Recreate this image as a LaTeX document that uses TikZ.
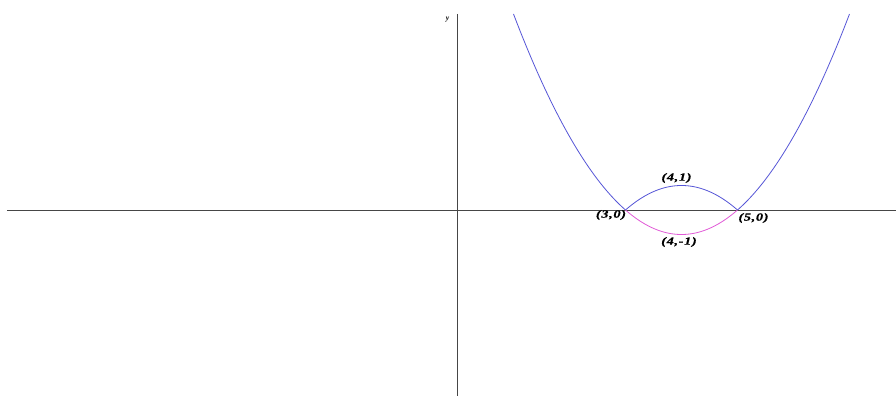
\documentclass[tikz,border=0pt]{standalone}
\usepackage{fontspec}
\setmainfont{Liberation Serif}
\newfontfamily\labelfont[FakeStretch=1.3,LetterSpace=6,FakeBold=0.6]{Liberation Serif Bold Italic}
\definecolor{curveblue}{RGB}{85,85,215}
\definecolor{curvepink}{RGB}{225,90,215}
\definecolor{axisgray}{RGB}{70,70,70}
\begin{document}
\begin{tikzpicture}[x=56pt,y=24.5pt,
  axisline/.style={draw=axisgray,line width=0.9pt},
  bluecurve/.style={draw=curveblue,line width=0.8pt},
  pinkcurve/.style={draw=curvepink,line width=0.8pt},
  ptlabel/.style={font=\labelfont\fontsize{11}{12}\selectfont,inner sep=0pt}]
\useasboundingbox (-457.5pt,-188pt) rectangle (438.5pt,210pt);
\fill[white] (-457.5pt,-188pt) rectangle (438.5pt,210pt);
% axes
\coordinate (xl) at (-450.5pt,0);
\coordinate (xr) at (438.5pt,0);
\coordinate (yt) at (0,196pt);
\coordinate (yb) at (0,-186pt);
\draw[axisline] (xl) -- (xr);
\draw[axisline] (yt) -- (yb);
\node[font=\fontsize{7.5}{8}\selectfont\bfseries\itshape,inner sep=0pt] (ylab) at (-10pt,190pt) {y};
% curves
\draw[bluecurve] plot[domain=1:3,samples=60,smooth] (\x,{\x*\x-8*\x+15});
\draw[bluecurve] plot[domain=5:7,samples=60,smooth] (\x,{\x*\x-8*\x+15});
\draw[bluecurve] plot[domain=3:5,samples=60,smooth] (\x,{-(\x*\x-8*\x+15)});
\draw[pinkcurve] plot[domain=3:5,samples=60,smooth] (\x,{\x*\x-8*\x+15});
% labels
\node[ptlabel] (p30) at (153.5pt,-5pt) {(3,0)};
\node[ptlabel] (p50) at (296pt,-8pt) {(5,0)};
\node[ptlabel] (p41) at (219pt,32pt) {(4,1)};
\node[ptlabel] (p4m1) at (221.5pt,-32pt) {(4,-1)};
\end{tikzpicture}
\end{document}
